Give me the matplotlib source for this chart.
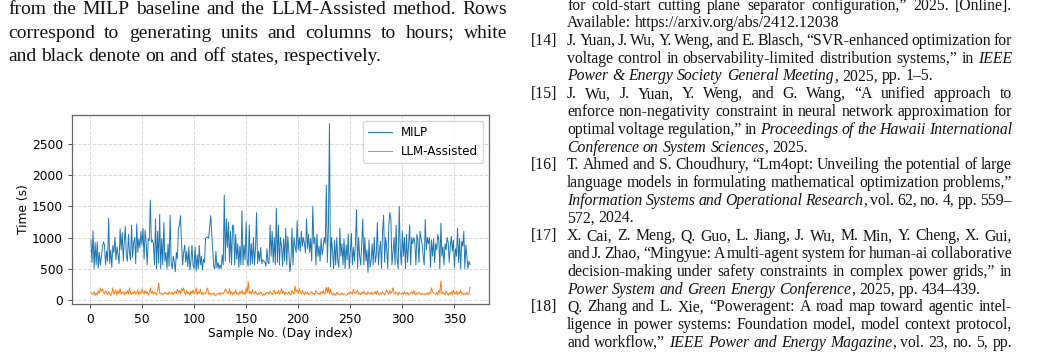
import numpy as np
import matplotlib
matplotlib.use("Agg")
import matplotlib.pyplot as plt

# Solve time per day (s)
milp = [
    960, 600, 1110, 500, 920, 560, 930, 510, 760, 560,
    680, 850, 930, 880, 560, 780, 620, 1310, 580, 800,
    520, 870, 760, 1000, 640, 850, 720, 580, 1140, 800,
    1080, 620, 940, 1180, 700, 620, 1050, 760, 640, 1200,
    680, 920, 1000, 580, 1220, 760, 980, 840, 1100, 880,
    1150, 650, 1120, 920, 560, 980, 950, 1600, 930, 960,
    900, 560, 1300, 500, 1100, 590, 1370, 500, 980, 560,
    1240, 620, 760, 500, 900, 540, 1360, 600, 500, 700,
    620, 450, 760, 660, 1150, 1200, 1350, 900, 560, 760,
    880, 600, 780, 530, 850, 480, 640, 870, 560, 500,
    840, 460, 720, 500, 870, 560, 700, 480, 650, 600,
    980, 1000, 1010, 990, 1170, 1350, 1050, 780, 520, 500,
    780, 510, 600, 500, 560, 500, 720, 560, 1680, 620,
    1300, 840, 1250, 600, 1100, 560, 1200, 1180, 560, 1050,
    650, 900, 520, 860, 560, 1430, 560, 880, 640, 1250,
    600, 540, 1200, 560, 900, 580, 1000, 560, 820, 1400,
    580, 780, 620, 840, 580, 640, 620, 600, 540, 820,
    600, 580, 1200, 700, 1100, 600, 1000, 560, 1470, 600,
    1200, 560, 1000, 860, 540, 980, 620, 1150, 560, 1020,
    780, 450, 620, 1150, 560, 1000, 850, 760, 1270, 800,
    1000, 780, 1100, 860, 1000, 900, 750, 1300, 820, 1050,
    760, 980, 620, 1500, 900, 1000, 560, 1050, 700, 860,
    620, 980, 720, 850, 1000, 900, 1840, 600, 1150, 2830,
    530, 1000, 780, 500, 960, 560, 1000, 620, 520, 1150,
    700, 900, 560, 980, 500, 880, 640, 1060, 500, 760,
    1070, 560, 840, 620, 900, 1450, 500, 1000, 700, 560,
    900, 1300, 560, 1000, 620, 800, 440, 960, 520, 640,
    900, 560, 1000, 600, 720, 1240, 560, 800, 940, 500,
    1100, 1360, 600, 1000, 820, 500, 1200, 1400, 1300, 560,
    760, 1000, 560, 1200, 640, 500, 1500, 800, 560, 1100,
    700, 1000, 500, 1050, 600, 880, 1200, 560, 1000, 900,
    1000, 920, 560, 1050, 940, 600, 1100, 980, 900, 700,
    560, 1290, 800, 1000, 900, 1000, 520, 960, 700, 980,
    600, 900, 800, 1050, 960, 500, 1230, 700, 850, 560,
    900, 800, 1000, 920, 600, 860, 1020, 780, 960, 520,
    820, 700, 1150, 600, 980, 500, 940, 860, 1100, 500,
    880, 680, 500, 620, 565,
]
llm = [
    120, 100, 90, 130, 70, 110, 80, 150, 100, 190,
    140, 170, 120, 90, 150, 110, 80, 130, 100, 70,
    110, 190, 90, 120, 160, 80, 140, 100, 180, 90,
    110, 130, 80, 120, 100, 150, 90, 190, 110, 80,
    120, 100, 140, 90, 110, 160, 80, 130, 100, 170,
    120, 90, 150, 100, 130, 80, 110, 190, 100, 140,
    90, 120, 100, 80, 150, 270, 100, 90, 110, 80,
    100, 120, 90, 110, 80, 130, 100, 90, 120, 80,
    110, 130, 100, 170, 120, 150, 90, 180, 140, 190,
    110, 80, 150, 100, 120, 70, 140, 100, 160, 90,
    110, 190, 80, 130, 100, 170, 90, 120, 80, 110,
    100, 150, 190, 90, 110, 80, 100, 90, 110, 70,
    80, 100, 90, 110, 80, 120, 100, 90, 130, 170,
    140, 110, 100, 180, 90, 130, 80, 120, 100, 160,
    90, 110, 80, 130, 100, 150, 90, 120, 80, 190,
    110, 290, 100, 130, 90, 160, 110, 90, 140, 100,
    80, 110, 90, 130, 100, 70, 90, 80, 110, 100,
    120, 90, 140, 110, 80, 130, 160, 90, 120, 100,
    150, 90, 120, 180, 100, 140, 80, 120, 100, 90,
    130, 100, 80, 150, 110, 90, 220, 130, 160, 100,
    180, 120, 90, 150, 110, 80, 130, 100, 120, 80,
    90, 110, 130, 90, 100, 80, 150, 120, 90, 110,
    80, 130, 100, 150, 90, 120, 200, 110, 200, 90,
    170, 100, 80, 110, 90, 70, 120, 90, 100, 80,
    90, 110, 80, 100, 90, 70, 80, 110, 90, 130,
    110, 90, 170, 120, 100, 130, 150, 90, 110, 80,
    120, 100, 140, 90, 110, 80, 130, 100, 90, 120,
    80, 110, 100, 130, 90, 150, 100, 80, 110, 90,
    130, 100, 80, 120, 160, 110, 90, 150, 100, 130,
    190, 100, 90, 130, 110, 80, 120, 100, 90, 110,
    80, 130, 100, 90, 120, 80, 110, 100, 130, 90,
    150, 100, 80, 110, 90, 120, 100, 80, 110, 90,
    80, 100, 90, 110, 80, 120, 100, 190, 130, 110,
    100, 90, 120, 80, 150, 110, 300, 90, 120, 100,
    80, 140, 100, 70, 110, 90, 130, 80, 160, 100,
    90, 140, 80, 120, 100, 160, 90, 110, 80, 100,
    90, 120, 80, 100, 200,
]
series_names = ["MILP", "LLM-Assisted"]

# surrounding page text: (baseline px, text, justified)
left_lines = [
    (14.3, "from the MILP baseline and the LLM-Assisted method. Rows", True),
    (37.8, "correspond to generating units and columns to hours; white", True),
    (61.3, "and black denote on and off states, respectively.", False),
]
# (baseline px, label, text, justified); *...* marks italics
ref_lines = [
    (10.0, None, "for cold-start cutting plane separator configuration,\u201d 2025. [Online].", True),
    (27.3, None, "Available: https://arxiv.org/abs/2412.12038", False),
    (45.0, "[14]", "J. Yuan, J. Wu, Y. Weng, and E. Blasch, \u201cSVR-enhanced optimization for", True),
    (62.8, None, "voltage control in observability-limited distribution systems,\u201d in *IEEE*", True),
    (80.5, None, "*Power & Energy Society General Meeting*, 2025, pp. 1\u20135.", False),
    (98.3, "[15]", "J. Wu, J. Yuan, Y. Weng, and G. Wang, \u201cA unified approach to", True),
    (116.0, None, "enforce non-negativity constraint in neural network approximation for", True),
    (133.8, None, "optimal voltage regulation,\u201d in *Proceedings of the Hawaii International*", True),
    (151.5, None, "*Conference on System Sciences*, 2025.", False),
    (169.3, "[16]", "T. Ahmed and S. Choudhury, \u201cLm4opt: Unveiling the potential of large", True),
    (187.0, None, "language models in formulating mathematical optimization problems,\u201d", True),
    (204.8, None, "*Information Systems and Operational Research*, vol. 62, no. 4, pp. 559\u2013", True),
    (222.5, None, "572, 2024.", False),
    (240.3, "[17]", "X. Cai, Z. Meng, Q. Guo, L. Jiang, J. Wu, M. Min, Y. Cheng, X. Gui,", True),
    (258.0, None, "and J. Zhao, \u201cMingyue: A multi-agent system for human-ai collaborative", True),
    (275.8, None, "decision-making under safety constraints in complex power grids,\u201d in", True),
    (293.5, None, "*Power System and Green Energy Conference*, 2025, pp. 434\u2013439.", False),
    (311.3, "[18]", "Q. Zhang and L. Xie, \u201cPoweragent: A road map toward agentic intel-", True),
    (329.0, None, "ligence in power systems: Foundation model, model context protocol,", True),
    (346.8, None, "and workflow,\u201d *IEEE Power and Energy Magazine*, vol. 23, no. 5, pp.", True),
]

W, H = 1042, 353
fig = plt.figure(figsize=(W / 100, H / 100), dpi=100)
renderer = fig.canvas.get_renderer()
SERIF = "Liberation Serif"
TXT = "#111111"


def fx(px):
    return px / W


def fy(py):
    return 1 - py / H


def draw_line(y, x0, x1, line, size, justify):
    words = []
    ital = False
    for word in line.split(" "):
        parts = []
        for i, chunk in enumerate(word.split("*")):
            if i > 0:
                ital = not ital
            if chunk:
                parts.append((chunk, ital))
        words.append(parts)
    objs, widths = [], []
    for parts in words:
        wo, ww = [], 0.0
        for chunk, it in parts:
            t = fig.text(0, fy(y), chunk, fontsize=size, family=SERIF,
                         style="italic" if it else "normal", color=TXT,
                         va="baseline", ha="left")
            w = t.get_window_extent(renderer).width
            wo.append((t, w))
            ww += w
        objs.append(wo)
        widths.append(ww)
    probe = fig.text(0, 0, "a a", fontsize=size, family=SERIF)
    probe2 = fig.text(0, 0, "aa", fontsize=size, family=SERIF)
    space = probe.get_window_extent(renderer).width - probe2.get_window_extent(renderer).width
    probe.remove()
    probe2.remove()
    if justify and len(words) > 1:
        gap = (x1 - x0 - sum(widths)) / (len(words) - 1)
    else:
        gap = space
    x = x0
    for wo, ww in zip(objs, widths):
        cx = x
        for t, w in wo:
            t.set_x(fx(cx))
            cx += w
        x += ww + gap


for y, txt, just in left_lines:
    draw_line(y, 8, 507, txt, 14, just)

for y, lab, txt, just in ref_lines:
    if lab:
        fig.text(fx(531), fy(y), lab, fontsize=11.3, family=SERIF, color=TXT, va="baseline")
    draw_line(y, 567, 1012, txt, 11.3, just)

# Chart
ax = fig.add_axes([fx(72), fy(304), fx(489 - 72), (304 - 115) / H])
days_m = np.arange(1, len(milp) + 1)
days_l = np.arange(1, len(llm) + 1)
ax.plot(days_m, milp, color="#1f77b4", lw=0.7, label=series_names[0])
ax.plot(days_l, llm, color="#ff7f0e", lw=0.7, label=series_names[1])
ax.set_xticks([0, 50, 100, 150, 200, 250, 300, 350])
ax.set_yticks([0, 500, 1000, 1500, 2000, 2500])
ax.tick_params(labelsize=8.8, length=3, width=0.7, color="0.3")
ax.set_xlabel("Sample No. (Day index)", fontsize=8.8, labelpad=1)
ax.set_ylabel("Time (s)", fontsize=8.8, labelpad=1)
ax.grid(True, linestyle="--", color="0.85", lw=0.7)
for s in ax.spines.values():
    s.set_color("0.4")
    s.set_linewidth(0.9)
ax.legend(loc="upper right", fontsize=8.6, handlelength=2.0)

fig.savefig("out.png", dpi=100)
